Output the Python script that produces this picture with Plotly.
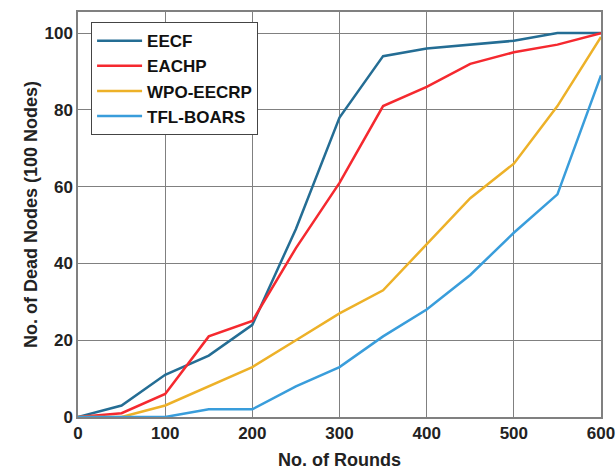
import plotly.graph_objects as go

rounds = [0, 50, 100, 150, 200, 250, 300, 350, 400, 450, 500, 550, 600]
eecf = [0, 3, 11, 16, 24, 49, 78, 94, 96, 97, 98, 100, 100]
eachp = [0, 1, 6, 21, 25, 44, 61, 81, 86, 92, 95, 97, 100]
wpo_eecrp = [0, 0, 3, 8, 13, 20, 27, 33, 45, 57, 66, 81, 99]
tfl_boars = [0, 0, 0, 2, 2, 8, 13, 21, 28, 37, 48, 58, 89]

series = [
    ("EECF", eecf, "#246d94"),
    ("EACHP", eachp, "#f5292f"),
    ("WPO-EECRP", wpo_eecrp, "#edb128"),
    ("TFL-BOARS", tfl_boars, "#399ddb"),
]

fig = go.Figure()
for name, vals, color in series:
    fig.add_trace(go.Scatter(x=rounds, y=vals, mode="lines", name=name,
                             line=dict(color=color, width=2.5)))

font = "Liberation Sans, Arial, sans-serif"
axis_common = dict(
    showgrid=True, gridcolor="#808080", gridwidth=1,
    showline=True, linecolor="#808080", linewidth=1.5, mirror=True,
    ticks="", zeroline=False, automargin=False,
    tickfont=dict(family=font, size=17, color="#222222", weight="bold"),
)
fig.update_layout(
    width=616, height=474,
    margin=dict(l=78, r=15, t=12, b=57),
    paper_bgcolor="white", plot_bgcolor="white",
    font=dict(family=font, color="#222222"),
    xaxis=dict(range=[0, 600], tickvals=[0, 100, 200, 300, 400, 500, 600],
               title=dict(text="No. of Rounds", font=dict(family=font, size=18, weight="bold"), standoff=11),
               **axis_common),
    yaxis=dict(range=[0, 105.5], tickvals=[0, 20, 40, 60, 80, 100],
               title=dict(text="No. of Dead Nodes (100 Nodes)", font=dict(family=font, size=18, weight="bold"), standoff=2),
               **axis_common),
    legend=dict(x=0.025, y=0.975, xanchor="left", yanchor="top",
                bgcolor="white", bordercolor="#444444", borderwidth=1,
                font=dict(family=font, size=17, color="#111111", weight="bold"),
                itemwidth=45, tracegroupgap=0),
    showlegend=True,
)
fig.write_html("out.html")
